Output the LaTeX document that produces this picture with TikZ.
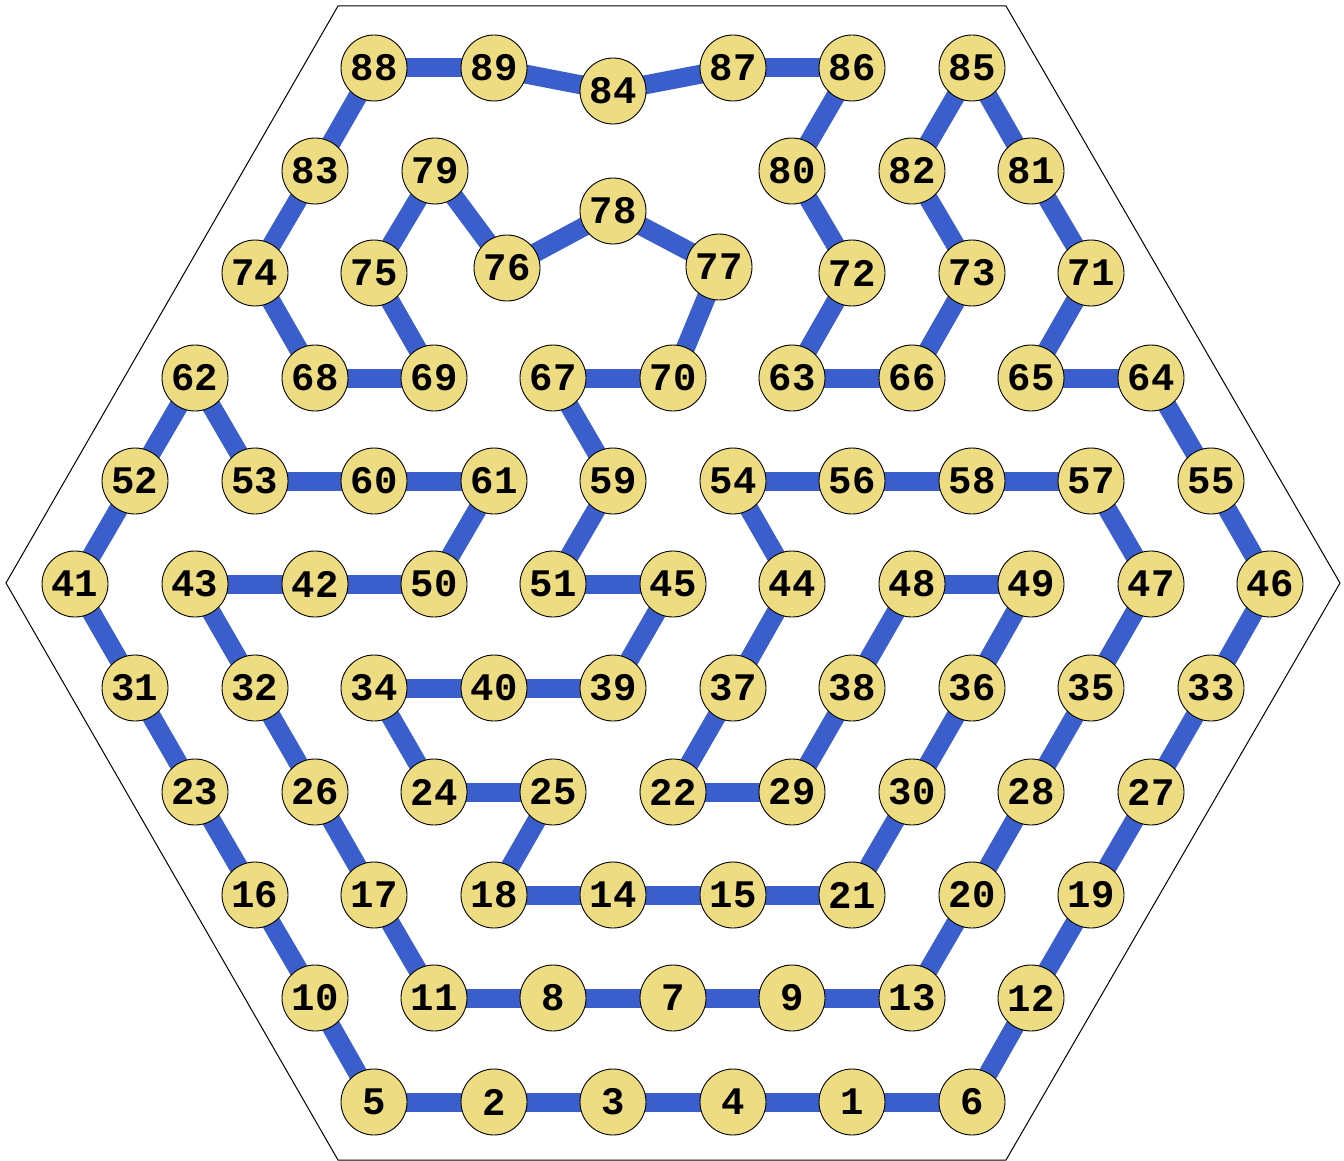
\documentclass[tikz,border=0pt]{standalone}
\usepackage{fontspec}
\setmonofont{Liberation Mono}
\usetikzlibrary{backgrounds}
\definecolor{edgeblue}{RGB}{58,95,205}
\definecolor{nodefill}{RGB}{238,220,130}
\tikzset{
  nd/.style={circle,draw=black,line width=0.9pt,fill=nodefill,minimum size=66pt,inner sep=0pt,
    font=\fontsize{39}{39}\selectfont\ttfamily\bfseries},
  ed/.style={draw=edgeblue,line width=19pt},
  hexb/.style={draw=black,line width=1pt}
}
\begin{document}
\begin{tikzpicture}[x=1pt,y=-1pt]
\useasboundingbox (0,0) rectangle (1344,1161);
\coordinate (h1) at (338,6);
\coordinate (h2) at (1006,6);
\coordinate (h3) at (1340,583);
\coordinate (h4) at (1006,1160);
\coordinate (h5) at (338,1160);
\coordinate (h6) at (6,583);
\draw[hexb] (h1) -- (h2) -- (h3) -- (h4) -- (h5) -- (h6) -- cycle;
% row 0
\node[nd] (n88) at (374,68) {88};
\node[nd] (n89) at (494,68) {89};
\node[nd] (n84) at (613,91) {84};
\node[nd] (n87) at (733,68) {87};
\node[nd] (n86) at (852,68) {86};
\node[nd] (n85) at (972,68) {85};
% row 1
\node[nd] (n83) at (315,171) {83};
\node[nd] (n79) at (435,171) {79};
\node[nd] (n78) at (613,211) {78};
\node[nd] (n80) at (792,171) {80};
\node[nd] (n82) at (912,171) {82};
\node[nd] (n81) at (1031,171) {81};
% row 2
\node[nd] (n74) at (255,273) {74};
\node[nd] (n75) at (374,273) {75};
\node[nd] (n76) at (507,268) {76};
\node[nd] (n77) at (719,267) {77};
\node[nd] (n72) at (852,273) {72};
\node[nd] (n73) at (972,273) {73};
\node[nd] (n71) at (1091,273) {71};
% row 3
\node[nd] (n62) at (195,378) {62};
\node[nd] (n68) at (315,378) {68};
\node[nd] (n69) at (434,378) {69};
\node[nd] (n67) at (553,378) {67};
\node[nd] (n70) at (673,378) {70};
\node[nd] (n63) at (792,378) {63};
\node[nd] (n66) at (912,378) {66};
\node[nd] (n65) at (1031,378) {65};
\node[nd] (n64) at (1151,378) {64};
% row 4
\node[nd] (n52) at (135,481) {52};
\node[nd] (n53) at (255,481) {53};
\node[nd] (n60) at (374,481) {60};
\node[nd] (n61) at (494,481) {61};
\node[nd] (n59) at (613,481) {59};
\node[nd] (n54) at (733,481) {54};
\node[nd] (n56) at (852,481) {56};
\node[nd] (n58) at (972,481) {58};
\node[nd] (n57) at (1091,481) {57};
\node[nd] (n55) at (1211,481) {55};
% row 5
\node[nd] (n41) at (75,584) {41};
\node[nd] (n43) at (195,584) {43};
\node[nd] (n42) at (315,584) {42};
\node[nd] (n50) at (434,584) {50};
\node[nd] (n51) at (553,584) {51};
\node[nd] (n45) at (673,584) {45};
\node[nd] (n44) at (792,584) {44};
\node[nd] (n48) at (912,584) {48};
\node[nd] (n49) at (1031,584) {49};
\node[nd] (n47) at (1151,584) {47};
\node[nd] (n46) at (1270,584) {46};
% row 6
\node[nd] (n31) at (135,688) {31};
\node[nd] (n32) at (255,688) {32};
\node[nd] (n34) at (374,688) {34};
\node[nd] (n40) at (494,688) {40};
\node[nd] (n39) at (613,688) {39};
\node[nd] (n37) at (733,688) {37};
\node[nd] (n38) at (852,688) {38};
\node[nd] (n36) at (972,688) {36};
\node[nd] (n35) at (1091,688) {35};
\node[nd] (n33) at (1211,688) {33};
% row 7
\node[nd] (n23) at (195,792) {23};
\node[nd] (n26) at (315,792) {26};
\node[nd] (n24) at (434,792) {24};
\node[nd] (n25) at (553,792) {25};
\node[nd] (n22) at (673,792) {22};
\node[nd] (n29) at (792,792) {29};
\node[nd] (n30) at (912,792) {30};
\node[nd] (n28) at (1031,792) {28};
\node[nd] (n27) at (1151,792) {27};
% row 8
\node[nd] (n16) at (255,895) {16};
\node[nd] (n17) at (374,895) {17};
\node[nd] (n18) at (494,895) {18};
\node[nd] (n14) at (613,895) {14};
\node[nd] (n15) at (733,895) {15};
\node[nd] (n21) at (852,895) {21};
\node[nd] (n20) at (972,895) {20};
\node[nd] (n19) at (1091,895) {19};
% row 9
\node[nd] (n10) at (315,998) {10};
\node[nd] (n11) at (434,998) {11};
\node[nd] (n8) at (553,998) {8};
\node[nd] (n7) at (673,998) {7};
\node[nd] (n9) at (792,998) {9};
\node[nd] (n13) at (912,998) {13};
\node[nd] (n12) at (1031,998) {12};
% row 10
\node[nd] (n5) at (374,1102) {5};
\node[nd] (n2) at (494,1102) {2};
\node[nd] (n3) at (613,1102) {3};
\node[nd] (n4) at (733,1102) {4};
\node[nd] (n1) at (852,1102) {1};
\node[nd] (n6) at (972,1102) {6};
\begin{pgfonlayer}{background}
\foreach \a/\b in {5/2,2/3,3/4,4/1,1/6,6/12,12/19,19/27,27/33,33/46,46/55,55/64,64/65,65/71,71/81,81/85,
  85/82,82/73,73/66,66/63,63/72,72/80,80/86,86/87,87/84,84/89,89/88,88/83,83/74,74/68,68/69,69/75,
  75/79,79/76,76/78,78/77,77/70,70/67,67/59,59/51,51/45,45/39,39/40,40/34,34/24,24/25,25/18,18/14,
  14/15,15/21,21/30,30/36,36/49,49/48,48/38,38/29,29/22,22/37,37/44,44/54,54/56,56/58,58/57,57/47,
  47/35,35/28,28/20,20/13,13/9,9/7,7/8,8/11,11/17,17/26,26/32,32/43,43/42,42/50,50/61,61/60,60/53,
  53/62,62/52,52/41,41/31,31/23,23/16,16/10,10/5}
  \draw[ed] (n\a.center) -- (n\b.center);
\end{pgfonlayer}
\end{tikzpicture}
\end{document}
